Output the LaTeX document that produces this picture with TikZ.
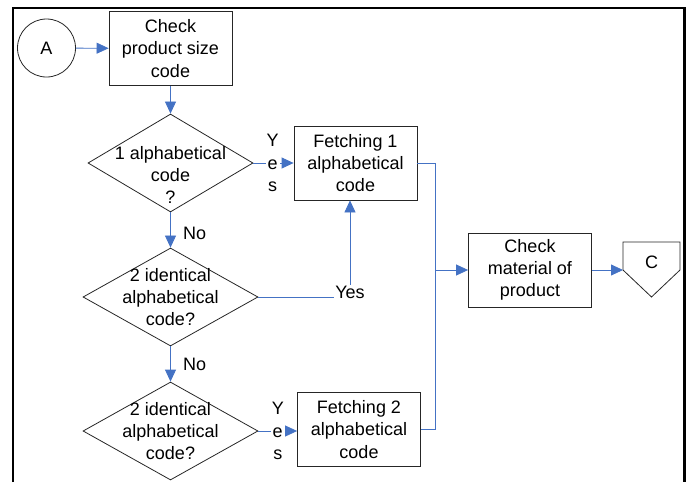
\documentclass[tikz,border=0pt]{standalone}
\usepackage{fontspec}
\setmainfont{Liberation Sans}
\usepackage{tikz}
\usetikzlibrary{shapes}
\usetikzlibrary{arrows.meta}
\usetikzlibrary{positioning}
\definecolor{flowblue}{HTML}{4472C4}
\definecolor{boxline}{HTML}{262626}

\begin{document}
\begin{tikzpicture}[x=1pt,y=-1pt,
    font=\fontsize{18}{22.3}\selectfont,
    box/.style={draw=boxline, line width=0.8pt, minimum width=123pt, minimum height=74pt, inner sep=0pt, align=center},
    decision/.style={diamond, draw=boxline, line width=0.8pt, minimum width=#1, minimum height=98pt, inner sep=0pt},
    flow/.style={draw=flowblue, line width=0.8pt, -{Triangle[length=12pt,width=11pt]}},
    link/.style={draw=flowblue, line width=0.8pt},
    lbl/.style={fill=white, inner sep=1pt, align=center}]
    \useasboundingbox (0,0) rectangle (688,482);
    % Page frame
    \draw[line width=2.5pt] (13,482) -- (13,8) -- (684.5,8) -- (684.5,482);
    % Connectors and process boxes
    \node[circle, draw=boxline, line width=0.8pt, minimum size=58pt, inner sep=0pt] (conA) at (46.5,48) {A};
    \node[box] (chksize) at (170.5,48.5) {Check\\product size\\code};
    \node[box] (fetch1) at (355.5,163) {Fetching 1\\alphabetical\\code};
    \node[box] (fetch2) at (359,429.5) {Fetching 2\\alphabetical\\code};
    \node[box] (chkmat) at (530,270) {Check\\material of\\product};
    % Decisions
    \node[decision=165pt, label={[align=center, yshift=-12pt]center:{1 alphabetical\\code\\?}}] (dec1) at (170.5,163) {};
    \node[decision=175pt, label={[align=center]center:{2 identical\\alphabetical\\code?}}] (dec2) at (170.5,297) {};
    \node[decision=175pt, label={[align=center]center:{2 identical\\alphabetical\\code?}}] (dec3) at (170.5,431) {};
    % Off-page connector
    \node (conC) at (651.5,262) {C};
    \draw[draw=boxline, line width=0.8pt] (623,242) -- (680,242) -- (680,270) -- (651.5,297) -- (623,270) -- cycle;
    \coordinate (conCin) at (623,270);
    \coordinate (merge) at (435.5,270);
    % Flow lines
    \draw[flow] (conA) -- (chksize);
    \draw[flow] (chksize) -- (dec1);
    \draw[flow] (dec1.east) -- node[lbl, pos=0.48] {Y\\e\\s} (fetch1.west);
    \draw[flow] (dec1) -- node[right=9pt, pos=0.6] {No} (dec2);
    \draw[flow] (dec2.east) -| node[lbl, pos=0.5, yshift=5pt] {Yes} ([xshift=-5.5pt]fetch1.south);
    \draw[flow] (dec2) -- node[right=9pt] {No} (dec3);
    \draw[flow] (dec3.east) -- node[lbl, pos=0.5] {Y\\e\\s} (dec3.east -| fetch2.west);
    \draw[link] (fetch1.east) -| (merge) |- (fetch2.east);
    \draw[flow] (merge) -- (chkmat.west);
    \draw[flow] (chkmat.east) -- (conCin);
\end{tikzpicture}
\end{document}
